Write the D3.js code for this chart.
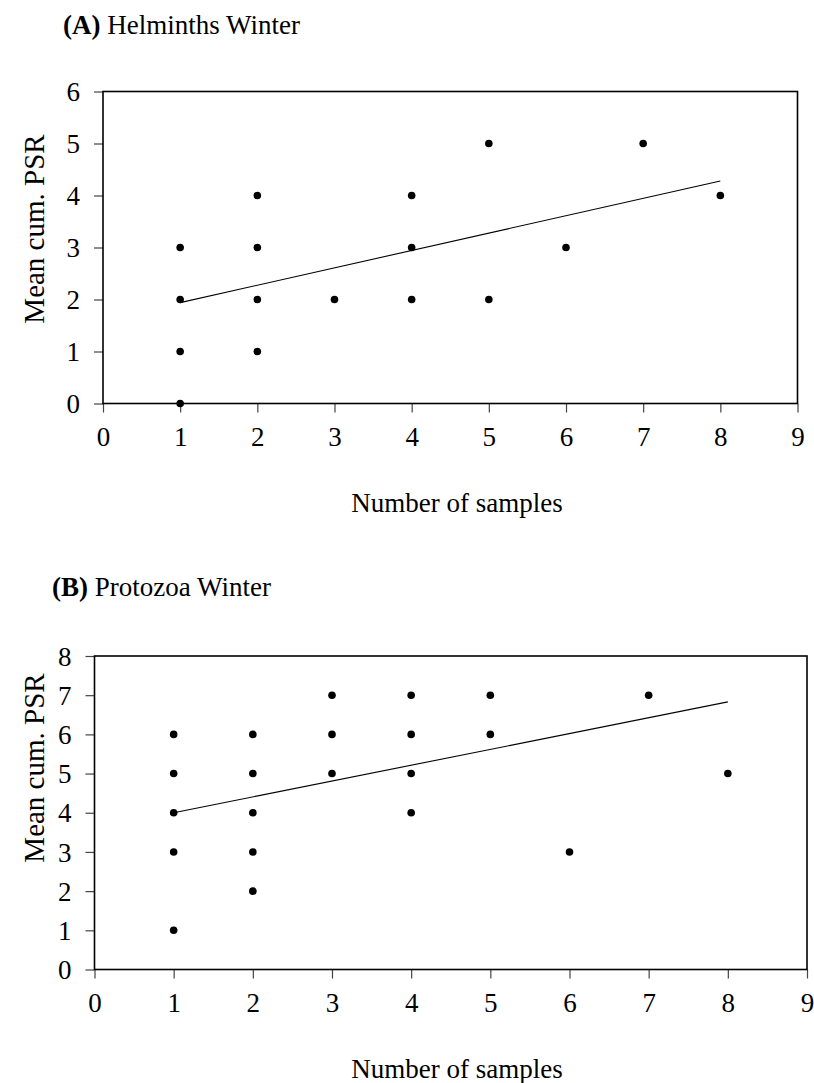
<!DOCTYPE html>
<html>
<head>
<meta charset="utf-8">
<script src="https://cdn.jsdelivr.net/npm/d3@7"></script>
<style>
  body { margin: 0; background: #fff; }
  text { font-family: "Liberation Serif", "Times New Roman", serif; fill: #000; }
</style>
</head>
<body>
<div id="chart"></div>
<script>
// Panel A: Helminths Winter
const samplesA = [1, 1, 1, 1, 2, 2, 2, 2, 3, 4, 4, 4, 5, 5, 6, 7, 8];
const psrA     = [0, 1, 2, 3, 1, 2, 3, 4, 2, 2, 3, 4, 2, 5, 3, 5, 4];
const trendA   = [[1, 1.94], [8, 4.28]];
const yTicksA  = [0, 1, 2, 3, 4, 5, 6];

// Panel B: Protozoa Winter
const samplesB = [1, 1, 1, 1, 1, 2, 2, 2, 2, 2, 3, 3, 3, 4, 4, 4, 4, 5, 5, 6, 7, 8];
const psrB     = [1, 3, 4, 5, 6, 2, 3, 4, 5, 6, 5, 6, 7, 4, 5, 6, 7, 6, 7, 3, 7, 5];
const trendB   = [[1, 4.0], [8, 6.83]];
const yTicksB  = [0, 1, 2, 3, 4, 5, 6, 7, 8];

const xTicks = [0, 1, 2, 3, 4, 5, 6, 7, 8, 9];

const svg = d3.select("#chart").append("svg")
    .attr("width", 814)
    .attr("height", 1083);

function drawPanel(opt) {
    const x = d3.scaleLinear().domain([0, 9]).range([opt.left, opt.right]);
    const y = d3.scaleLinear().domain([0, opt.yMax]).range([opt.bottom, opt.top]);
    const g = svg.append("g");

    // title: bold letter + plain name
    const title = g.append("text")
        .attr("x", opt.titleX)
        .attr("y", opt.titleY)
        .attr("font-size", 27);
    title.append("tspan").attr("font-weight", "bold").text(opt.letter);
    title.append("tspan").text(" " + opt.name);

    // axes
    const xAxis = g.append("g")
        .attr("transform", `translate(0,${opt.bottom})`)
        .call(d3.axisBottom(x).tickValues(xTicks).tickFormat(d3.format("d")).tickSize(9).tickPadding(14));
    const yAxis = g.append("g")
        .attr("transform", `translate(${opt.left},0)`)
        .call(d3.axisLeft(y).tickValues(opt.yTicks).tickFormat(d3.format("d")).tickSize(9).tickPadding(14));
    [xAxis, yAxis].forEach(a => {
        a.select(".domain").remove();
        a.selectAll(".tick line").attr("stroke", "#444").attr("stroke-width", 1.2);
        a.selectAll(".tick text").attr("font-size", 27).attr("font-family", "Liberation Serif, serif").attr("fill", "#000");
    });
    yAxis.selectAll(".tick text").attr("dy", "0.34em");

    // frame
    g.append("rect")
        .attr("x", opt.left)
        .attr("y", opt.top)
        .attr("width", opt.right - opt.left)
        .attr("height", opt.bottom - opt.top)
        .attr("fill", "none")
        .attr("stroke", "#000")
        .attr("stroke-width", 1.6);

    // trend line
    g.append("path")
        .datum(opt.trend)
        .attr("fill", "none")
        .attr("stroke", "#000")
        .attr("stroke-width", 1.1)
        .attr("d", d3.line().x(d => x(d[0])).y(d => y(d[1])));

    // points
    g.append("g")
        .selectAll("circle")
        .data(opt.xs.map((v, i) => [v, opt.ys[i]]))
        .join("circle")
        .attr("cx", d => x(d[0]))
        .attr("cy", d => y(d[1]))
        .attr("r", 3.8)
        .attr("fill", "#000");

    // axis titles
    g.append("text")
        .attr("x", 457)
        .attr("y", opt.bottom + 108)
        .attr("text-anchor", "middle")
        .attr("font-size", 27)
        .text("Number of samples");
    g.append("text")
        .attr("transform", `translate(44,${opt.yLabelY}) rotate(-90)`)
        .attr("text-anchor", "middle")
        .attr("font-size", 29)
        .text("Mean cum. PSR");
}

drawPanel({
    letter: "(A)", name: "Helminths Winter", titleX: 63, titleY: 34,
    left: 103, right: 797.5, top: 91.5, bottom: 403.5, yMax: 6,
    yTicks: yTicksA, xs: samplesA, ys: psrA, trend: trendA, yLabelY: 229
});

drawPanel({
    letter: "(B)", name: "Protozoa Winter", titleX: 52, titleY: 596,
    left: 94.5, right: 807, top: 656, bottom: 969.5, yMax: 8,
    yTicks: yTicksB, xs: samplesB, ys: psrB, trend: trendB, yLabelY: 768
});
</script>
</body>
</html>
